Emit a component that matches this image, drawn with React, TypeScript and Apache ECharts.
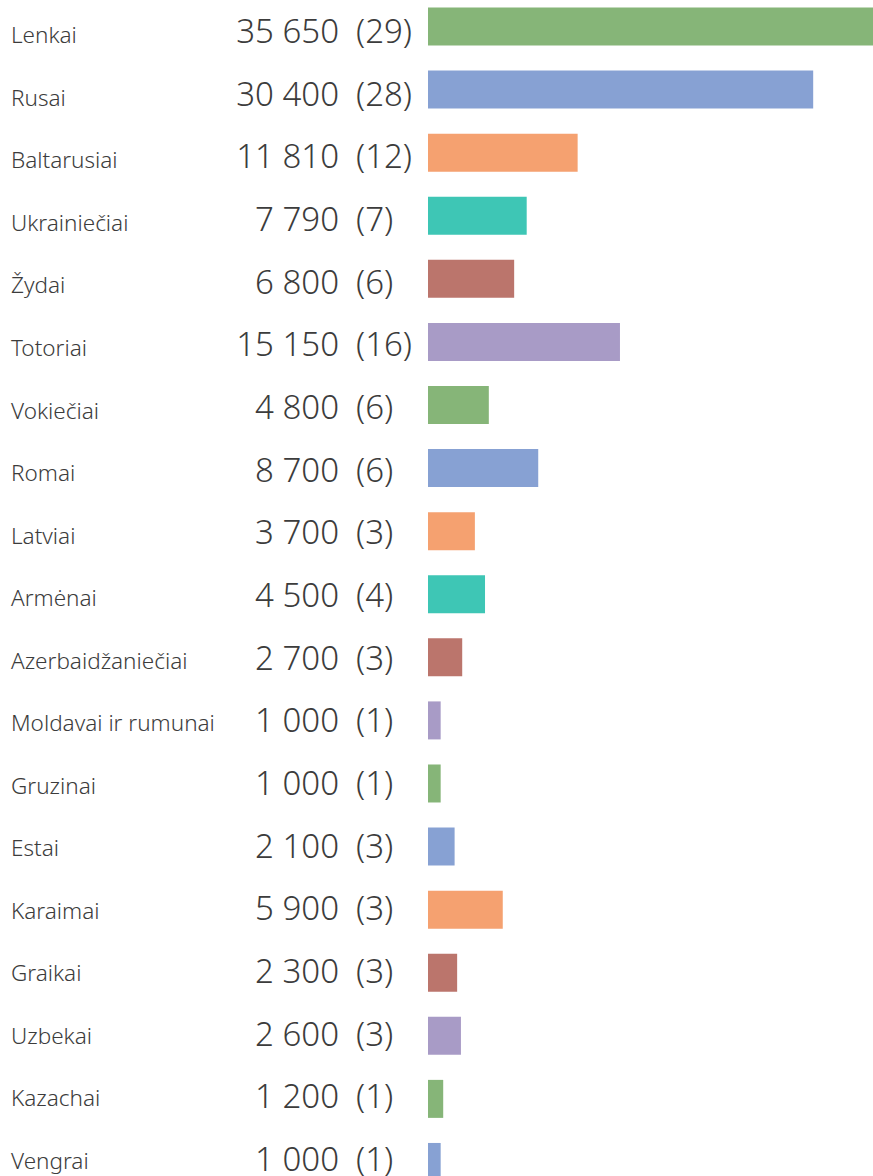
import React, { useEffect, useRef } from "react";
import * as echarts from "echarts";

const categories = [
  "Lenkai", "Rusai", "Baltarusiai", "Ukrainiečiai", "Žydai", "Totoriai", "Vokiečiai", "Romai",
  "Latviai", "Armėnai", "Azerbaidžaniečiai", "Moldavai ir rumunai", "Gruzinai", "Estai",
  "Karaimai", "Graikai", "Uzbekai", "Kazachai", "Vengrai",
];
const values = [35650, 30400, 11810, 7790, 6800, 15150, 4800, 8700, 3700, 4500, 2700, 1000, 1000, 2100, 5900, 2300, 2600, 1200, 1000];
const counts = [29, 28, 12, 7, 6, 16, 6, 6, 3, 4, 3, 1, 1, 3, 3, 3, 3, 1, 1];

const GREEN = "#86B578";
const BLUE = "#87A1D3";
const ORANGE = "#F5A170";
const TEAL = "#3EC6B5";
const BROWN = "#BB756C";
const PURPLE = "#A89BC6";
const barColors = [GREEN, BLUE, ORANGE, TEAL, BROWN, PURPLE, GREEN, BLUE, ORANGE, TEAL, BROWN, PURPLE, GREEN, BLUE, ORANGE, BROWN, PURPLE, GREEN, BLUE];

const fmt = (v: number) => {
  const s = String(v);
  return s.length > 3 ? s.slice(0, s.length - 3) + " " + s.slice(-3) : s;
};

const TEXT = "#3c3c3c";
const FONT = "'Noto Sans', 'Open Sans', sans-serif";
const GRID_LEFT = 428;
const SHIFT = 20; // container starts above the page top

const labelAxis = (gridIndex: number, margin: number, align: string, formatter: (v: string, i: number) => string, fontSize: number) => ({
  gridIndex,
  type: "category",
  position: "left",
  offset: 0,
  data: categories,
  inverse: true,
  axisLine: { show: false },
  axisTick: { show: false },
  splitLine: { show: false },
  axisLabel: {
    margin,
    align,
    interval: 0,
    formatter,
    fontSize,
    fontFamily: FONT,
    fontWeight: 300,
    color: TEXT,
  },
});

export default function App() {
  const ref = useRef<HTMLDivElement>(null);
  useEffect(() => {
    if (!ref.current) return;
    const chart = echarts.init(ref.current, null, { renderer: "svg" });
    chart.setOption({
      animation: false,
      grid: [
        { left: GRID_LEFT, right: 0, top: SHIFT - 5, height: 1198.5 },
        { left: GRID_LEFT, right: 0, top: SHIFT - 0.8, height: 1190.7 },
        { left: GRID_LEFT, right: 0, top: SHIFT + 3.6, height: 1188 },
      ],
      xAxis: [
        { gridIndex: 0, type: "value", min: 0, max: 35120, show: false },
        { gridIndex: 1, type: "value", min: 0, max: 1, show: false },
        { gridIndex: 2, type: "value", min: 0, max: 1, show: false },
      ],
      yAxis: [
        {
          gridIndex: 0,
          type: "category",
          data: categories,
          inverse: true,
          axisLine: { show: false },
          axisTick: { show: false },
          axisLabel: { show: false },
          splitLine: { show: false },
        },
        labelAxis(2, GRID_LEFT - 11, "left", (v) => v, 22.5),
        labelAxis(1, GRID_LEFT - 339, "right", (_v, i) => fmt(values[i]), 33),
        labelAxis(1, GRID_LEFT - 356, "left", (_v, i) => `(${counts[i]})`, 33),
      ],
      series: [
        {
          type: "bar",
          xAxisIndex: 0,
          yAxisIndex: 0,
          barWidth: 38,
          clip: true,
          data: values.map((v, i) => ({ value: v, itemStyle: { color: barColors[i] } })),
        },
      ],
    });
    return () => chart.dispose();
  }, []);
  return (
    <div
      ref={ref}
      style={{ position: "fixed", left: 0, top: -SHIFT, width: 873, height: 1176 + 2 * SHIFT + 20, background: "#fff" }}
    />
  );
}
